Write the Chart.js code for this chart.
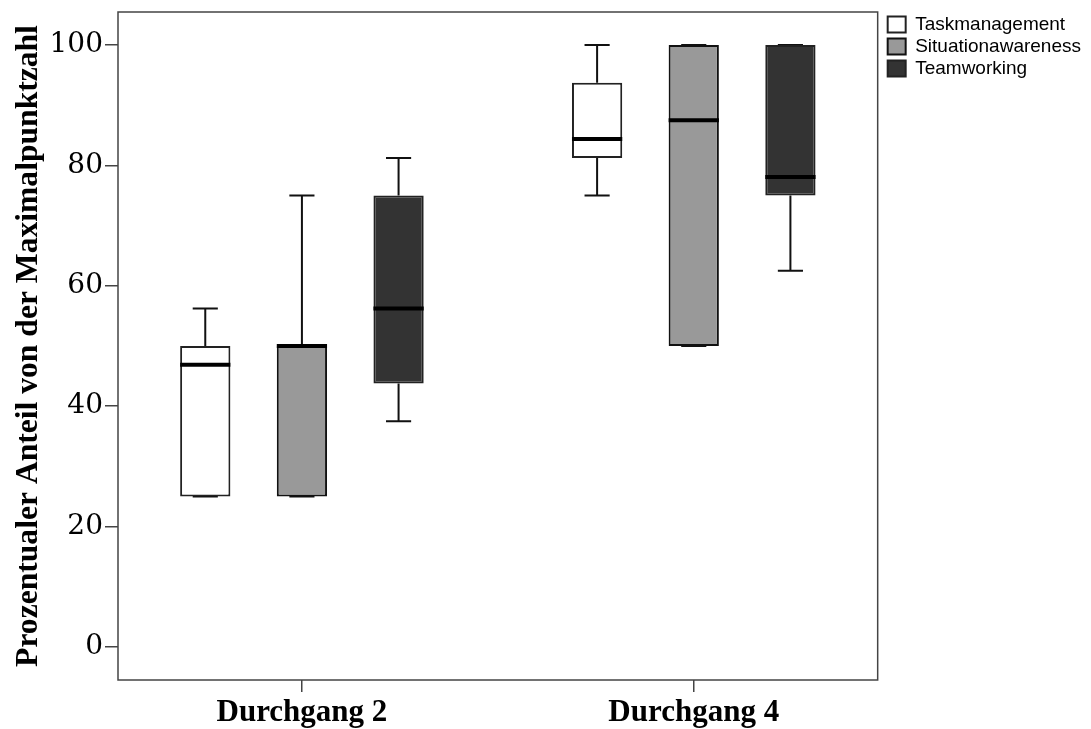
<!DOCTYPE html>
<html>
<head>
<meta charset="utf-8">
<script src="https://cdn.jsdelivr.net/npm/chart.js@4.4.1/dist/chart.umd.min.js"></script>
<style>
  html, body { margin: 0; padding: 0; background: #fff; }
  #wrap { width: 1091px; height: 729px; }
</style>
</head>
<body>
<div id="wrap"><canvas id="boxchart"></canvas></div>
<script>
// categories and tick labels
var groups = ["Durchgang 2", "Durchgang 4"];
var yTicks = [0, 20, 40, 60, 80, 100];

// five-number summaries per series (one value per group)
var taskMin = [25, 75];
var taskQ1 = [25, 81.25];
var taskMed = [46.9, 84.4];
var taskQ3 = [50, 93.75];
var taskMax = [56.25, 100];

var situMin = [25, 50];
var situQ1 = [25, 50];
var situMed = [50, 87.5];
var situQ3 = [50, 100];
var situMax = [75, 100];

var teamMin = [37.5, 62.5];
var teamQ1 = [43.75, 75];
var teamMed = [56.25, 78.1];
var teamQ3 = [75, 100];
var teamMax = [81.25, 100];

function boxes(q1, q3) {
	var out = [];
	for (var i = 0; i < q1.length; i++) {
		out.push([q1[i], q3[i]]);
	}
	return out;
}

var stats = [
	{ min : taskMin, med : taskMed, max : taskMax, q1 : taskQ1, q3 : taskQ3 },
	{ min : situMin, med : situMed, max : situMax, q1 : situQ1, q3 : situQ3 },
	{ min : teamMin, med : teamMed, max : teamMax, q1 : teamQ1, q3 : teamQ3 }
];

// whiskers behind the boxes, medians on top, frame round the plot
var boxPlotPlugin = {
	id : "boxPlot",
	afterLayout : function(chart) {
		// legend sits a little to the right of the frame
		var lg = chart.legend;
		if (lg) {
			var dx = chart.chartArea.right + 7 - lg.left;
			lg.left += dx;
			lg.right += dx;
		}
		// the groups sit slightly further apart than half the plot width
		var x = chart.scales.x;
		x._startPixel = x.left - 12;
		x._length = (x.right - x.left) + 24;
	},
	beforeDatasetsDraw : function(chart) {
		var ctx = chart.ctx, y = chart.scales.y;
		ctx.save();
		ctx.strokeStyle = "#111";
		ctx.lineWidth = 2;
		stats.forEach(function(s, d) {
			chart.getDatasetMeta(d).data.forEach(function(bar, j) {
				var cap = bar.width / 4;
				var yMin = y.getPixelForValue(s.min[j]), yMax = y.getPixelForValue(s.max[j]);
				var yQ1 = y.getPixelForValue(s.q1[j]), yQ3 = y.getPixelForValue(s.q3[j]);
				ctx.beginPath();
				ctx.moveTo(bar.x, yQ3); ctx.lineTo(bar.x, yMax);
				ctx.moveTo(bar.x, yQ1); ctx.lineTo(bar.x, yMin);
				ctx.moveTo(bar.x - cap, yMax); ctx.lineTo(bar.x + cap, yMax);
				ctx.moveTo(bar.x - cap, yMin); ctx.lineTo(bar.x + cap, yMin);
				ctx.stroke();
			});
		});
		ctx.restore();
	},
	afterDatasetsDraw : function(chart) {
		var ctx = chart.ctx, y = chart.scales.y;
		ctx.save();
		ctx.strokeStyle = "#000";
		ctx.lineWidth = 4;
		stats.forEach(function(s, d) {
			chart.getDatasetMeta(d).data.forEach(function(bar, j) {
				var ym = y.getPixelForValue(s.med[j]);
				ctx.beginPath();
				ctx.moveTo(bar.x - bar.width / 2, ym);
				ctx.lineTo(bar.x + bar.width / 2, ym);
				ctx.stroke();
			});
		});
		var a = chart.chartArea;
		ctx.strokeStyle = "#444";
		ctx.lineWidth = 1.5;
		ctx.strokeRect(a.left, a.top, a.right - a.left, a.bottom - a.top);
		ctx.restore();
	}
};

var ctx = document.getElementById("boxchart");

var data = {
	labels : groups,
	datasets : [
		{
			label : "Taskmanagement",
			data : boxes(taskQ1, taskQ3),
			backgroundColor : "#ffffff",
			borderColor : "#222",
			borderWidth : 2,
			borderSkipped : false
		},
		{
			label : "Situationawareness",
			data : boxes(situQ1, situQ3),
			backgroundColor : "#999999",
			borderColor : "#111",
			borderWidth : 2,
			borderSkipped : false
		},
		{
			label : "Teamworking",
			data : boxes(teamQ1, teamQ3),
			backgroundColor : "#333333",
			borderColor : "#222",
			borderWidth : 2,
			borderSkipped : false
		}
	]
};

var options = {
	responsive : true,
	maintainAspectRatio : false,
	animation : false,
	layout : { padding : { top : 12, right : 7 } },
	datasets : { bar : { categoryPercentage : 0.74, barPercentage : 0.52 } },
	plugins : {
		tooltip : { enabled : false },
		legend : {
			display : true,
			position : "right",
			align : "start",
			labels : {
				color : "#000",
				boxWidth : 18,
				boxHeight : 16,
				padding : 3,
				font : { family : "Liberation Sans", size : 19 }
			}
		}
	},
	scales : {
		x : {
			border : { display : false },
			grid : { display : true, offset : false, drawOnChartArea : false, drawTicks : true, tickLength : 12, color : "#444", lineWidth : 1.5 },
			ticks : { color : "#000", padding : 2, font : { family : "Liberation Serif", size : 31, weight : "bold" } },
			afterFit : function(s) { s.height = 49; }
		},
		y : {
			min : -5.5,
			max : 105.5,
			afterBuildTicks : function(s) {
				s.ticks = yTicks.map(function(v) { return { value : v }; });
			},
			border : { display : false },
			grid : { display : true, drawOnChartArea : false, drawTicks : true, tickLength : 13, color : "#444", lineWidth : 1.5 },
			ticks : { color : "#000", padding : 2, font : { family : "DejaVu Serif", size : 28 } },
			title : {
				display : true,
				text : "Prozentualer Anteil von der Maximalpunktzahl",
				color : "#000",
				padding : { top : 10, bottom : 0 },
				font : { family : "Liberation Serif", size : 31.6, weight : "bold" }
			},
			afterFit : function(s) {
				s.width = 118;
				s.paddingTop = 0;
				s.paddingBottom = 0;
			}
		}
	}
};

var chart = new Chart(ctx, {
	type : "bar",
	data : data,
	options : options,
	plugins : [boxPlotPlugin]
});
</script>
</body>
</html>
